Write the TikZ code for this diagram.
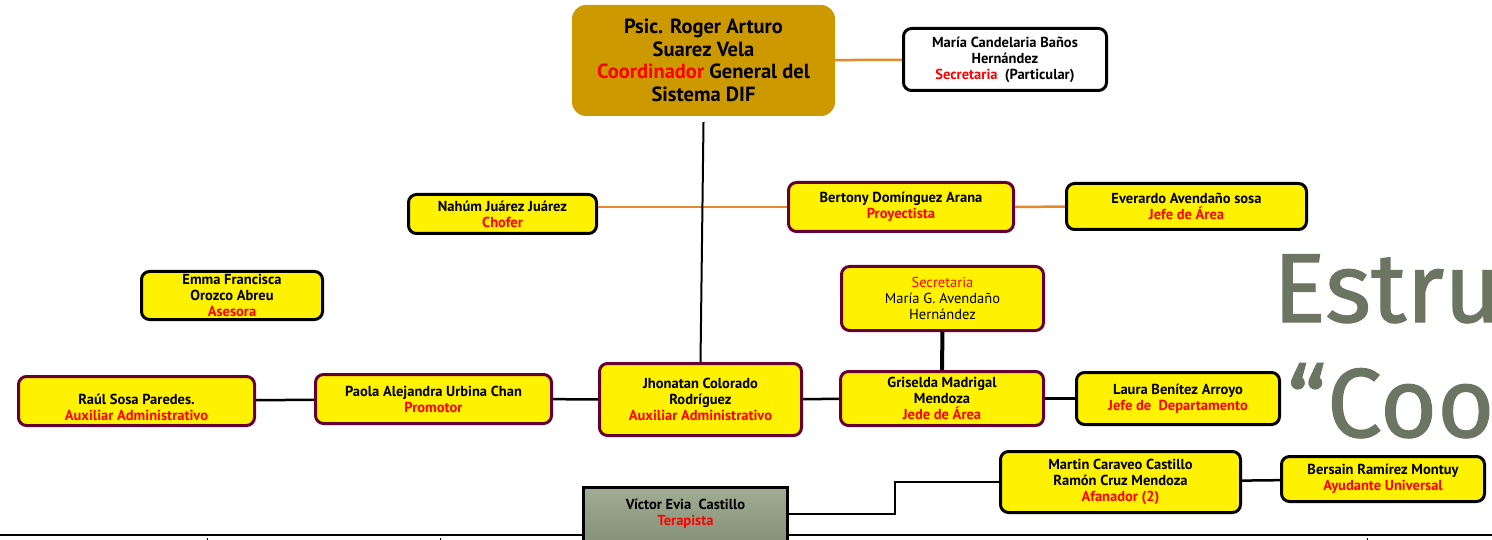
\documentclass[tikz,border=0pt]{standalone}
\usepackage{fontspec}
\setmainfont{PT Sans}
\newfontfamily\titlefont[FakeBold=1.2]{Fira Sans}
\usetikzlibrary{calc,positioning}

\definecolor{gold}{HTML}{CC9900}
\definecolor{wineborder}{HTML}{660033}
\definecolor{orangeline}{HTML}{E48A2A}
\definecolor{titlegray}{HTML}{6B7561}
\definecolor{sagetop}{HTML}{A2AD92}
\definecolor{sagebottom}{HTML}{85937A}

\newcommand{\cargo}[1]{\textcolor{red}{#1}}

\begin{document}
\begin{tikzpicture}[x=1pt, y=-1pt,
boss/.style={rectangle, rounded corners=14pt, fill=gold, inner sep=2pt, align=center, font=\fontsize{20.5}{22.5}\selectfont\bfseries},
card/.style={rectangle, rounded corners=8pt, draw, line width=3pt, fill=yellow, inner sep=1pt, align=center, font=\fontsize{14.5}{16}\selectfont\bfseries},
plain/.style={card, draw=black},
wine/.style={card, draw=wineborder},
blank/.style={card, draw=black, fill=white},
sage/.style={card, draw=black, rounded corners=0pt, top color=sagetop, bottom color=sagebottom},
oedge/.style={draw=orangeline, line width=2.5pt},
bedge/.style={draw=black, line width=2.5pt},
title/.style={anchor=base west, inner sep=0pt, text=titlegray, font=\titlefont\fontsize{98}{98}\selectfont}]

\useasboundingbox (0,0) rectangle (1492,540);

%% bottom rule and ticks
\draw[line width=2.5pt] (0,535) -- (1492,535);
\foreach \t in {207,440,1367}
      \draw[line width=1pt] (\t,538) -- (\t,540);

%% title (cut by the page edge)
\node[title] (estru) at (1273,322) {Estru};
\node[title] (coo) at (1287,437) {“Coo};

%% head
\node[boss, minimum width=263pt, minimum height=111pt] (boss) at (703.5,60.5)
      {Psic. Roger Arturo\\Suarez Vela\\\cargo{Coordinador} General del\\Sistema DIF};
\node[blank, minimum width=203pt, minimum height=62pt] (partsec) at (1005,59.5)
      {María Candelaria Baños\\Hernández\\\cargo{Secretaria}\ \ (Particular)};

%% second row
\node[plain, minimum width=188pt, minimum height=39pt] (nahum) at (502.5,214)
      {Nahúm Juárez Juárez\\\cargo{Chofer}};
\node[wine, minimum width=225pt, minimum height=49pt] (bertony) at (901,207)
      {Bertony Domínguez Arana\\\cargo{Proyectista}};
\node[plain, minimum width=240pt, minimum height=46pt] (everardo) at (1186.5,206.5)
      {Everardo Avendaño sosa\\\cargo{Jefe de Área}};

%% third row
\node[plain, minimum width=181pt, minimum height=48pt] (emma) at (232,295.5)
      {Emma Francisca\\Orozco Abreu\\\cargo{Asesora}};
\node[wine, minimum width=202pt, minimum height=64pt, font=\fontsize{14.5}{16}\selectfont] (secg) at (942.5,298.5)
      {\cargo{Secretaria}\\María G. Avendaño\\Hernández};

%% main row
\node[wine, minimum width=236pt, minimum height=49pt] (raul) at (136.5,401)
      {\mbox{}\\[8pt]Raúl Sosa Paredes.\\\cargo{Auxiliar Administrativo}};
\node[wine, minimum width=236pt, minimum height=49pt] (paola) at (433.5,399)
      {Paola Alejandra Urbina Chan\\\cargo{Promotor}};
\node[wine, minimum width=202pt, minimum height=72pt] (jhonatan) at (700.5,399.5)
      {Jhonatan Colorado\\Rodríguez\\\cargo{Auxiliar Administrativo}};
\node[wine, minimum width=203pt, minimum height=54pt] (griselda) at (942,398.5)
      {Griselda Madrigal\\Mendoza\\\cargo{Jede de Área}};
\node[plain, minimum width=203pt, minimum height=52pt] (laura) at (1178,398.5)
      {Laura Benítez Arroyo\\\cargo{Jefe de\ \ Departamento}};

%% bottom row
\node[plain, minimum width=240pt, minimum height=61pt] (martin) at (1120.5,482)
      {Martin Caraveo Castillo\\Ramón Cruz Mendoza\\\cargo{Afanador (2)}};
\node[plain, minimum width=203pt, minimum height=45pt] (bersain) at (1383,479)
      {Bersain Ramírez Montuy\\\cargo{Ayudante Universal}};
\node[sage, minimum width=204pt, minimum height=54pt] (victor) at (685.5,514)
      {Víctor Evia\ \ Castillo\\\cargo{Terapista}};

%% edges
\draw[oedge] (boss) -- (partsec);
\draw[oedge] (bertony.west) -- (bertony.west -| nahum.east);
\draw[oedge] (bertony) -- (everardo);
\draw[bedge, line width=2pt] ([yshift=-6pt]boss.south) -- (jhonatan.north);
\draw[bedge, line width=4pt] (secg) -- (griselda);
\foreach \a/\b in {raul/paola, paola/jhonatan, jhonatan/griselda, griselda/laura, martin/bersain}
      \draw[bedge] (\a) -- (\b);
\draw[bedge] (victor.east) -- ++(106,0) |- (martin.west);

\end{tikzpicture}
\end{document}
